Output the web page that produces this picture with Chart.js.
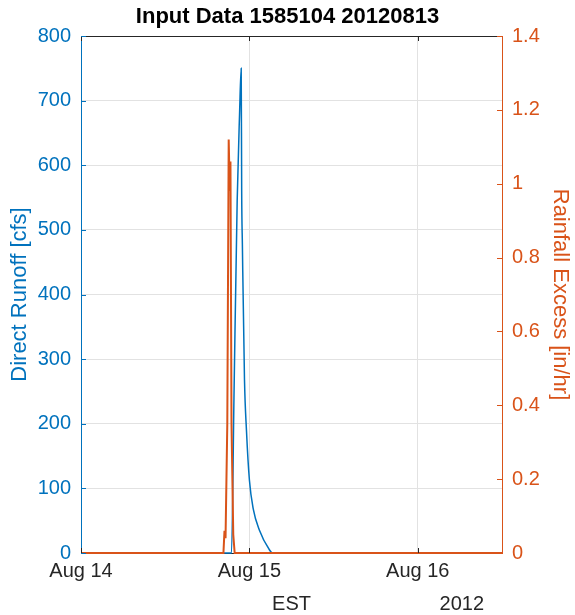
<!DOCTYPE html>
<html>
<head>
<meta charset="utf-8">
<script src="https://cdn.jsdelivr.net/npm/chart.js@4.4.0/dist/chart.umd.min.js"></script>
<style>
  html, body { margin: 0; padding: 0; background: #fff; }
  #wrap { width: 575px; height: 615px; position: relative; }
</style>
</head>
<body>
<div id="wrap"><canvas id="hydroChart"></canvas></div>
<script>
// hours since Aug 14 00:00 EST
const dayTicks = [0, 24, 48];
const dayLabels = ['Aug 14', 'Aug 15', 'Aug 16'];

const runoffHours = [0, 21.45, 21.8, 22.26, 22.6, 22.83, 22.9, 23.0, 23.3, 23.58, 24.0, 24.57, 25.4, 26.85, 27.3, 60];
const runoffCfs   = [0, 0, 240, 546, 680, 750, 560, 477, 268, 190, 113, 67, 36, 5, 0, 0];

const rainHours  = [0, 20.3, 20.45, 20.6, 20.85, 21.05, 21.2, 21.3, 21.45, 21.7, 21.9, 60];
const rainExcess = [0, 0, 0.06, 0.04, 0.35, 1.12, 0.98, 1.06, 0.35, 0.05, 0, 0];

const BLUE = '#0072BD';
const ORANGE = '#D95319';
const FONT = '"Liberation Sans", Arial, Helvetica, sans-serif';

const toPoints = (xs, ys) => xs.map((x, i) => ({ x: x, y: ys[i] }));

// inward tick marks, box top and the EST / year labels (MATLAB look)
const matlabBits = {
    id: 'matlabBits',
    afterDraw(chart) {
        const { ctx, chartArea: a, scales } = chart;
        const len = 5;
        ctx.save();
        ctx.lineWidth = 1;

        ctx.strokeStyle = '#262626';
        ctx.beginPath();
        ctx.moveTo(a.left, a.top + 0.5);
        ctx.lineTo(a.right, a.top + 0.5);
        dayTicks.forEach(t => {
            const px = Math.round(scales.x.getPixelForValue(t)) + 0.5;
            ctx.moveTo(px, a.bottom);
            ctx.lineTo(px, a.bottom - len);
            ctx.moveTo(px, a.top);
            ctx.lineTo(px, a.top + len);
        });
        ctx.stroke();

        ctx.strokeStyle = BLUE;
        ctx.beginPath();
        scales.y.ticks.forEach(t => {
            const py = Math.round(scales.y.getPixelForValue(t.value)) + 0.5;
            ctx.moveTo(a.left, py);
            ctx.lineTo(a.left + len, py);
        });
        ctx.stroke();

        ctx.strokeStyle = ORANGE;
        ctx.beginPath();
        scales.y2.ticks.forEach(t => {
            const py = Math.round(scales.y2.getPixelForValue(t.value)) + 0.5;
            ctx.moveTo(a.right, py);
            ctx.lineTo(a.right - len, py);
        });
        ctx.stroke();

        ctx.fillStyle = '#262626';
        ctx.font = '20px ' + FONT;
        ctx.textAlign = 'center';
        ctx.textBaseline = 'middle';
        ctx.fillText('EST', (a.left + a.right) / 2, 604);
        ctx.fillText('2012', scales.x.getPixelForValue(48) + 44, 604);
        ctx.restore();
    }
};

document.addEventListener('DOMContentLoaded', () => {
    const ctx = document.getElementById('hydroChart').getContext('2d');
    new Chart(ctx, {
        type: 'line',
        data: {
            datasets: [{
                label: 'Direct Runoff',
                data: toPoints(runoffHours, runoffCfs),
                yAxisID: 'y',
                borderColor: BLUE,
                borderWidth: 1.5,
                pointRadius: 0,
                cubicInterpolationMode: 'monotone',
                clip: 3,
                order: 1
            }, {
                label: 'Rainfall Excess',
                data: toPoints(rainHours, rainExcess),
                yAxisID: 'y2',
                borderColor: ORANGE,
                borderWidth: 2,
                pointRadius: 0,
                tension: 0,
                clip: 3,
                order: 0
            }]
        },
        options: {
            responsive: true,
            maintainAspectRatio: false,
            animation: false,
            layout: { padding: 0 },
            scales: {
                x: {
                    type: 'linear',
                    min: 0,
                    max: 60,
                    afterFit: s => { s.height = 62; },
                    afterBuildTicks: s => { s.ticks = dayTicks.map(v => ({ value: v })); },
                    ticks: {
                        color: '#262626',
                        font: { size: 20, family: FONT },
                        padding: 6,
                        maxRotation: 0,
                        callback: v => dayLabels[dayTicks.indexOf(v)]
                    },
                    grid: { color: '#e2e2e2', drawTicks: false },
                    border: { color: '#262626' }
                },
                y: {
                    position: 'left',
                    min: 0,
                    max: 800,
                    afterFit: s => { s.width = 81; },
                    ticks: {
                        stepSize: 100,
                        color: BLUE,
                        font: { size: 20, family: FONT },
                        padding: 10
                    },
                    grid: { color: '#e2e2e2', drawTicks: false },
                    border: { color: BLUE },
                    title: {
                        display: true,
                        text: 'Direct Runoff [cfs]',
                        color: BLUE,
                        font: { size: 22, family: FONT },
                        padding: { top: 7, bottom: 0 }
                    }
                },
                y2: {
                    position: 'right',
                    min: 0,
                    max: 1.4,
                    afterFit: s => { s.width = 73; },
                    ticks: {
                        stepSize: 0.2,
                        color: ORANGE,
                        font: { size: 20, family: FONT },
                        padding: 10,
                        callback: v => String(Math.round(v * 10) / 10)
                    },
                    grid: { drawOnChartArea: false, drawTicks: false },
                    border: { color: ORANGE },
                    title: {
                        display: true,
                        text: 'Rainfall Excess [in/hr]',
                        color: ORANGE,
                        font: { size: 22, family: FONT },
                        padding: { top: 2, bottom: 0 }
                    }
                }
            },
            plugins: {
                legend: { display: false },
                tooltip: { enabled: false },
                title: {
                    display: true,
                    text: 'Input Data 1585104 20120813',
                    color: '#000',
                    font: { size: 22, weight: 'bold', family: FONT },
                    padding: { top: 4, bottom: 5.6 }
                }
            }
        },
        plugins: [matlabBits]
    });
});
</script>
</body>
</html>
